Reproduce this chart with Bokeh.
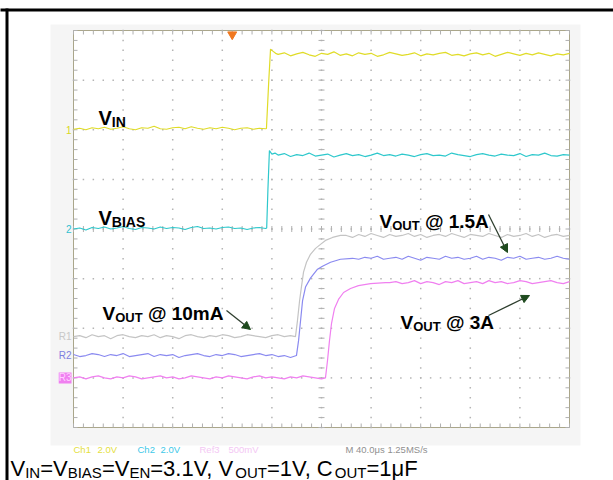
import numpy as np
from bokeh.plotting import figure
from bokeh.models import Range1d, Label, Arrow, NormalHead, BoxAnnotation
from bokeh.embed import file_html
from bokeh.resources import INLINE

# ---------------- scope settings ----------------
time_per_div_us = 40.0
n_div_x = 10
n_div_y = 8
ch1_scale = 2.0   # V/div
ch2_scale = 2.0   # V/div
ref_scale = 0.5   # V/div
ch1_pos = 6.0     # ground marker positions (divisions from bottom)
ch2_pos = 4.0
r1_pos = 1.83
r2_pos = 1.45
r3_pos = 1.0
trigger_t = 128.0

# ---------------- traces (time in us, volts) ----------------
vin_t = list(range(0, 160, 5)) + [155.6, 157.5, 158.9, 160.5, 163.0] + list(range(165, 405, 5))
vin_v = ([0.02, 0.06, 0.00, 0.08, 0.04, 0.10, 0.02, 0.06, 0.12, 0.04,
          0.00, 0.08, 0.06, 0.14, 0.04, 0.02, 0.08, 0.10, 0.04, 0.12,
          0.06, 0.02, 0.08, 0.04, 0.10, 0.06, 0.00, 0.06, 0.08, 0.02,
          0.06, 0.04]
         + [0.05, 2.0, 3.25, 3.18, 3.08]
         + [3.04, 3.10, 2.98, 3.06, 3.12, 3.02, 2.96, 3.08, 3.04, 3.14,
            3.00, 3.06, 2.98, 3.10, 3.04, 3.08, 2.96, 3.02, 3.12, 3.06,
            3.00, 3.04, 3.10, 2.98, 3.06, 3.02, 3.08, 3.12, 3.00, 3.04,
            2.98, 3.06, 3.10, 3.02, 3.08, 2.96, 3.04, 3.12, 3.06, 3.00,
            3.08, 3.02, 3.10, 3.04, 2.98, 3.06, 3.02, 3.08])

vbias_t = list(range(0, 160, 5)) + [155.8, 156.8, 158.0, 160.0, 162.5] + list(range(165, 405, 5))
vbias_v = ([0.00, 0.04, -0.04, 0.06, 0.02, 0.08, 0.00, 0.04, 0.10, 0.02,
            -0.02, 0.06, 0.04, 0.00, 0.08, 0.02, 0.06, 0.04, -0.02, 0.06,
            0.10, 0.02, 0.04, 0.00, 0.06, 0.08, 0.02, 0.04, -0.02, 0.04,
            0.06, 0.02]
           + [0.04, 1.6, 3.16, 3.02, 3.06]
           + [2.98, 3.04, 2.92, 3.00, 2.96, 3.06, 2.94, 2.98, 3.02, 2.90,
              2.98, 3.04, 2.96, 3.00, 2.92, 2.98, 3.06, 2.96, 3.00, 2.94,
              3.02, 2.98, 2.92, 3.00, 3.04, 2.96, 2.98, 2.94, 3.06, 3.00,
              2.96, 2.92, 3.00, 3.04, 2.98, 2.94, 3.02, 2.98, 2.96, 3.04,
              2.92, 3.00, 2.98, 3.06, 2.96, 2.94, 3.00, 2.98])

r1_t = (list(range(0, 180, 5))
        + [179.0, 180.6, 182.3, 183.9, 185.5, 187.9, 191.1, 195.2, 199.2, 203.2, 208.9, 215.3]
        + list(range(220, 405, 5)))
r1_v = ([0.00, 0.01, -0.01, 0.02, 0.00, 0.01, -0.02, 0.01, 0.02, 0.00,
         -0.01, 0.01, 0.00, 0.02, -0.01, 0.01, 0.00, -0.02, 0.01, 0.02,
         0.00, -0.01, 0.01, 0.00, 0.02, 0.01, -0.01, 0.00, 0.02, 0.01,
         0.00, -0.01, 0.01, 0.02, 0.00, 0.01]
        + [0.0, 0.16, 0.36, 0.51, 0.65, 0.75, 0.83, 0.89, 0.93, 0.97, 1.00, 1.02]
        + [1.02, 1.00, 1.03, 1.01, 1.04, 1.02, 1.00, 1.03, 1.01, 1.02,
           1.04, 1.01, 1.03, 1.00, 1.02, 1.03, 1.01, 1.04, 1.02, 1.00,
           1.03, 1.02, 1.01, 1.04, 1.02, 1.00, 1.03, 1.01, 1.02, 1.04,
           1.01, 1.03, 1.00, 1.02, 1.03, 1.01, 1.02])

r2_t = (list(range(0, 180, 5))
        + [179.8, 181.5, 183.1, 184.7, 187.1, 191.1, 196.8, 200.8, 207.3, 215.3]
        + list(range(225, 405, 5)))
r2_v = ([0.01, -0.01, 0.00, 0.02, 0.01, -0.01, 0.01, 0.00, 0.02, -0.01,
         0.00, 0.01, 0.02, -0.01, 0.01, 0.00, 0.01, -0.02, 0.00, 0.01,
         0.02, 0.00, -0.01, 0.01, 0.00, 0.02, 0.01, -0.01, 0.00, 0.01,
         0.02, 0.00, 0.01, -0.01, 0.00, -0.02]
        + [0.0, 0.15, 0.35, 0.55, 0.69, 0.78, 0.87, 0.90, 0.94, 0.97]
        + [0.98, 0.97, 0.99, 0.98, 1.00, 0.97, 0.98, 0.99, 0.97, 1.00,
           0.98, 0.96, 0.99, 0.98, 0.97, 1.00, 0.98, 0.99, 0.97, 0.98,
           1.00, 0.97, 0.99, 0.98, 0.96, 0.99, 0.98, 1.00, 0.97, 0.98,
           0.99, 0.97, 0.98, 1.00, 0.98, 0.97])

r3_t = (list(range(0, 205, 5))
        + [203.2, 204.8, 206.4, 208.1, 210.5, 213.7, 217.8, 223.4, 229.8, 239.5, 251.6]
        + list(range(255, 405, 5)))
r3_v = ([0.00, 0.01, -0.01, 0.01, 0.02, 0.00, -0.01, 0.01, 0.00, 0.02,
         0.01, -0.01, 0.00, 0.01, 0.02, 0.00, 0.01, -0.01, 0.00, 0.02,
         0.01, 0.00, -0.01, 0.01, 0.00, 0.02, 0.01, 0.00, -0.01, 0.01,
         0.02, 0.00, 0.01, 0.00, -0.01, 0.01, 0.00, 0.02, 0.01, 0.00,
         -0.01]
        + [0.0, 0.17, 0.37, 0.55, 0.70, 0.79, 0.86, 0.90, 0.93, 0.95, 0.96]
        + [0.96, 0.97, 0.95, 0.96, 0.98, 0.95, 0.97, 0.96, 0.94, 0.97,
           0.96, 0.98, 0.95, 0.96, 0.97, 0.95, 0.98, 0.96, 0.97, 0.95,
           0.96, 0.98, 0.97, 0.95, 0.96, 0.97, 0.98, 0.96, 0.95, 0.97])

status_items = [("Ch1", "#e4e040"), ("2.0V", "#e4e040"), ("Ch2", "#40c8e8"),
                ("2.0V", "#40c8e8"), ("Ref3", "#f4c8f4"), ("500mV", "#f4c8f4"),
                ("M 40.0\u03bcs 1.25MS/s", "#909090")]

# ---------------- layout geometry (pixels) ----------------
W, H = 613, 480
FX0, FX1, FY0, FY1 = 73, 569, 30, 427
T_END = time_per_div_us * n_div_x


def tx(px):
    return (px - FX0) / (FX1 - FX0) * T_END


def dy(py):
    return (FY1 - py) / (FY1 - FY0) * n_div_y


p = figure(width=W, height=H, output_backend="svg", toolbar_location=None,
           x_axis_type=None, y_axis_type=None,
           x_range=Range1d(tx(0), tx(W)), y_range=Range1d(dy(H), dy(0)),
           min_border=0)
p.background_fill_color = "white"
p.border_fill_color = "white"
p.outline_line_color = None
p.xgrid.visible = False
p.ygrid.visible = False

# faint screenshot background and scope screen
p.quad(left=[tx(50)], right=[tx(580)], top=[dy(24)], bottom=[dy(445)],
       fill_color="#f5f5f5", line_color=None)
p.quad(left=[0], right=[T_END], top=[n_div_y], bottom=[0],
       fill_color="white", line_color="#aaa68a", line_width=1)

# graticule dots
gx, gy = [], []
for i in range(1, n_div_x):
    for d in np.arange(0, n_div_y + 0.01, 0.2):
        gx.append(i * time_per_div_us); gy.append(d)
for j in range(1, n_div_y):
    for t in np.arange(0, T_END + 0.1, time_per_div_us / 5):
        gx.append(t); gy.append(j)
p.scatter(gx, gy, marker="square", size=1.5, fill_color="#b4b4b4", line_color=None)

# tick marks on the centre lines and on the screen edges
minor_t = np.arange(0, T_END + 0.1, time_per_div_us / 5)
minor_d = np.arange(0, n_div_y + 0.01, 0.2)
px_t = T_END / (FX1 - FX0)
px_d = n_div_y / (FY1 - FY0)
cx, cy = T_END / 2, n_div_y / 2
x0s, x1s, y0s, y1s = [], [], [], []
for t in minor_t:
    x0s += [t, t, t]; x1s += [t, t, t]
    y0s += [cy - 3 * px_d, 0, n_div_y - 4 * px_d]
    y1s += [cy + 3 * px_d, 4 * px_d, n_div_y]
for d in minor_d:
    y0s += [d, d, d]; y1s += [d, d, d]
    x0s += [cx - 3 * px_t, 0, T_END - 4 * px_t]
    x1s += [cx + 3 * px_t, 4 * px_t, T_END]
p.segment(x0s, y0s, x1s, y1s, line_color="#b0b0b0", line_width=1)

# channel ranges so that volts map through the library scales
def ch_range(pos, scale):
    return Range1d((dy(H) - pos) * scale, (dy(0) - pos) * scale)


p.extra_y_ranges = {
    "ch1": ch_range(ch1_pos, ch1_scale),
    "ch2": ch_range(ch2_pos, ch2_scale),
    "r1": ch_range(r1_pos, ref_scale),
    "r2": ch_range(r2_pos, ref_scale),
    "r3": ch_range(r3_pos, ref_scale),
}
p.line(r1_t, r1_v, y_range_name="r1", line_color="#c4c4c4", line_width=1.2)
p.line(r2_t, r2_v, y_range_name="r2", line_color="#8a8af0", line_width=1.2)
p.line(r3_t, r3_v, y_range_name="r3", line_color="#f080f0", line_width=1.2)
p.line(vbias_t, vbias_v, y_range_name="ch2", line_color="#2ec8cc", line_width=1.2)
p.line(vin_t, vin_v, y_range_name="ch1", line_color="#e0dc28", line_width=1.2)

# trigger marker
p.scatter([trigger_t], [dy(34)], marker="inverted_triangle", size=9,
          fill_color="#f07820", line_color="#f07820")

# ground markers
for txt, pos, col, bg in [("1", ch1_pos, "#d8d820", None), ("2", ch2_pos, "#30c0d0", None),
                          ("R1", r1_pos, "#c8c8c8", None), ("R2", r2_pos, "#8080e0", None),
                          ("R3", r3_pos, "#ffd0ff", "#f080f0")]:
    lab = Label(x=tx(71), y=pos, text=txt, text_align="right", text_baseline="middle",
                text_font="Liberation Sans", text_font_size="10px", text_color=col)
    if bg:
        lab.background_fill_color = bg
    p.add_layout(lab)

# status line
status_x = [73, 97, 137, 160, 199, 228, 345]
for (txt, col), sx in zip(status_items, status_x):
    p.add_layout(Label(x=tx(sx), y=dy(449), text=txt, text_font="Liberation Sans",
                       text_font_size="9.5px", text_color=col, text_baseline="alphabetic"))

# text with subscripts
W_REG = {'V': 667, 'I': 278, 'N': 722, '=': 584, 'B': 667, 'A': 667, 'S': 667, 'E': 667,
         '3': 556, '.': 278, '1': 556, ',': 278, ' ': 278, 'O': 778, 'U': 722, 'T': 611,
         'C': 722, '\u03bc': 576, 'F': 611}
W_BOLD = {'V': 667, 'I': 278, 'N': 722, 'B': 722, 'A': 722, 'S': 667, 'O': 778, 'U': 722,
          'T': 611, ' ': 278, '@': 975, '1': 556, '0': 556, 'm': 889, '.': 278, '5': 556,
          '3': 556}


def rich(parts, x_px, base_py, size, sub_size, drop, bold):
    table = W_BOLD if bold else W_REG
    x = x_px
    for txt, sub in parts:
        fs = sub_size if sub else size
        lead = len(txt) - len(txt.lstrip(" "))
        x += lead * table[' '] / 1000 * fs
        body = txt.lstrip(" ")
        p.add_layout(Label(x=tx(x), y=dy(base_py + (drop if sub else 0)), text=body,
                           text_font="Liberation Sans", text_font_size=f"{fs}px",
                           text_font_style="bold" if bold else "normal",
                           text_color="black", text_baseline="alphabetic"))
        x += sum(table[c] for c in body) / 1000 * fs


rich([("V", 0), ("IN", 1)], 98, 117, 20, 14, 4, True)
rich([("V", 0), ("BIAS", 1)], 98, 217, 20, 14, 4, True)
rich([("V", 0), ("OUT", 1), (" @ 10mA", 0)], 102, 313, 19, 13, 4, True)
rich([("V", 0), ("OUT", 1), (" @ 1.5A", 0)], 379, 221, 19, 13, 4, True)
rich([("V", 0), ("OUT", 1), (" @ 3A", 0)], 400, 322, 19, 13, 4, True)

rich([("V", 0), ("IN", 1), ("=V", 0), ("BIAS", 1), ("=V", 0), ("EN", 1), ("=3.1V, V", 0),
      ("OUT", 1), ("=1V, C", 0), ("OUT", 1), ("=1\u03bcF", 0)],
     10, 468, 22, 15, 4, False)

# arrows
for (xa, ya, xb, yb) in [(226, 310, 250, 329), (488, 214, 507, 252), (488, 315, 529, 295)]:
    p.add_layout(Arrow(end=NormalHead(size=8, fill_color="#1e4a1e", line_color="#1e4a1e"),
                       x_start=tx(xa), y_start=dy(ya), x_end=tx(xb), y_end=dy(yb),
                       line_color="#2e3e2e", line_width=1.3))

# black document frame lines, and a clean right margin
p.add_layout(BoxAnnotation(left=tx(W - 6), right=tx(W + 2), top=dy(11.5), bottom=dy(H + 2),
                           fill_color="white", fill_alpha=1, line_alpha=0, level="overlay"))
p.add_layout(BoxAnnotation(left=tx(-2), right=tx(W + 2), top=dy(8), bottom=dy(11),
                           fill_color="black", fill_alpha=1, line_alpha=0, level="overlay"))
p.add_layout(BoxAnnotation(left=tx(5), right=tx(8), top=dy(8), bottom=dy(H + 2),
                           fill_color="black", fill_alpha=1, line_alpha=0, level="overlay"))

open("out.html", "w").write(file_html(p, INLINE))
